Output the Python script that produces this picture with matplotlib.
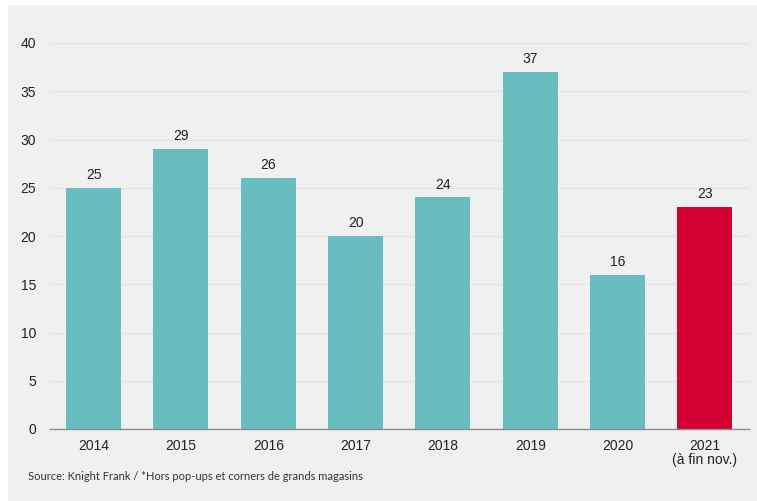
import matplotlib.pyplot as plt
from matplotlib.patches import Rectangle

# --- DATA ---
years = ['2014', '2015', '2016', '2017', '2018', '2019', '2020', '2021\n(à fin nov.)']
values = [25, 29, 26, 20, 24, 37, 16, 23]
highlight = [False, False, False, False, False, False, False, True]
y_ticks = [0, 5, 10, 15, 20, 25, 30, 35, 40]
source_text = 'Source: Knight Frank / *Hors pop-ups et corners de grands magasins'

# --- STYLE ---
BG = '#eff1f1'
TEAL = '#67bdc0'
RED = '#d40032'
W, H = 757, 501

plt.rcParams['font.family'] = ['Liberation Sans', 'DejaVu Sans']

fig = plt.figure(figsize=(W / 100, H / 100), dpi=100)
fig.patch.set_facecolor('white')
fig.patches.append(Rectangle((8 / W, 0), 1 - 8 / W, 1 - 5 / H, transform=fig.transFigure,
                             facecolor=BG, edgecolor='none', zorder=-1))

ax = fig.add_axes([50 / W, 72 / H, 698.6 / W, (429 - 23.7) / H])
ax.set_facecolor(BG)

colors = [RED if h else TEAL for h in highlight]
bars = ax.bar(range(len(years)), values, width=0.63, color=colors, zorder=3)
for b, v in zip(bars, values):
    ax.text(b.get_x() + b.get_width() / 2, v + 0.6, str(v), ha='center', va='bottom',
            fontsize=10, color='#222222')

ax.set_xlim(-0.5, len(years) - 0.5)
ax.set_ylim(0, 42)
ax.set_yticks(y_ticks)
ax.set_xticks(range(len(years)))
ax.set_xticklabels(years, fontsize=10, color='#222222', linespacing=1.05)
ax.tick_params(axis='y', labelsize=10, colors='#222222', length=0, pad=10)
ax.tick_params(axis='x', length=0, pad=7)
ax.grid(axis='y', color='#e2e5e5', linewidth=0.9, zorder=0)
for s in ['top', 'right', 'left']:
    ax.spines[s].set_visible(False)
ax.spines['bottom'].set_color('#8a8c8c')
ax.spines['bottom'].set_linewidth(1.0)
ax.spines['bottom'].set_zorder(4)

fig.text(28 / W, 1 - 476 / H, source_text, fontsize=8, color='#333333',
         family=['Lato', 'DejaVu Sans'], va='center')

plt.savefig('out.png', dpi=100, facecolor=fig.get_facecolor())
